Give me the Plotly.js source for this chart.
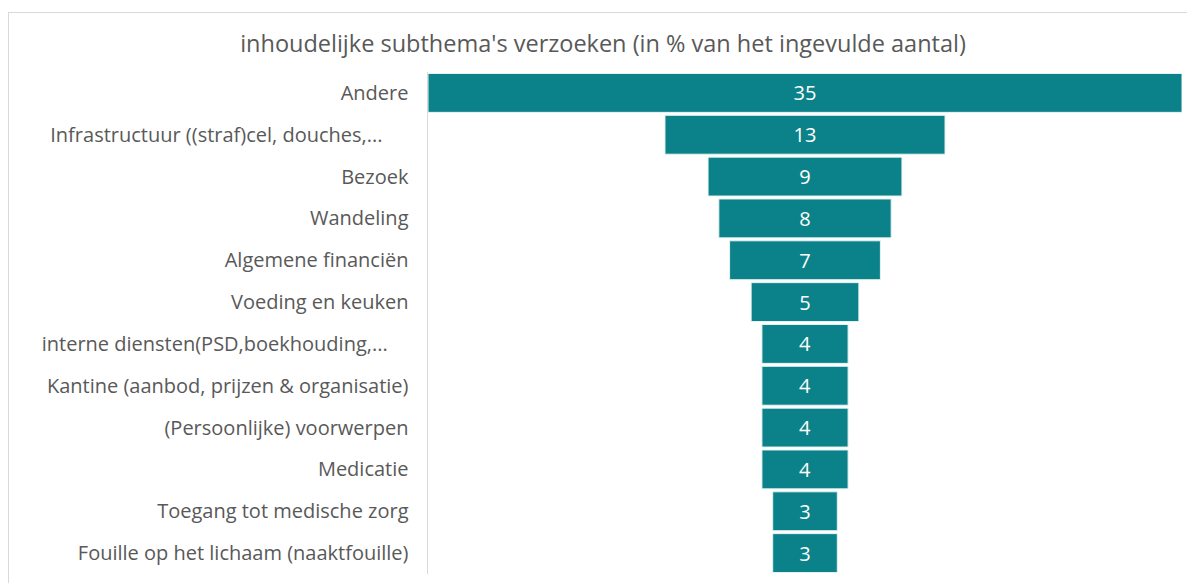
<!DOCTYPE html>
<html>
<head>
<meta charset="utf-8">
<script src="https://cdn.plot.ly/plotly-3.0.1.min.js"></script>
<style>
  html, body { margin: 0; padding: 0; background: #ffffff; overflow: hidden; }
  #chart { position: absolute; left: 0; top: 0; width: 1187px; height: 583px; }
  #frame { position: absolute; left: 8px; top: 12px; width: 1300px; height: 700px; border: 1px solid #d9d9d9; pointer-events: none; }
</style>
</head>
<body>
<div id="chart"></div>
<div id="frame"></div>
<script>
const NBSP = '\u00a0';
const categories = [
  'Andere',
  'Infrastructuur ((straf)cel, douches,...' + NBSP.repeat(5),
  'Bezoek',
  'Wandeling',
  'Algemene financiën',
  'Voeding en keuken',
  'interne diensten(PSD,boekhouding,...' + NBSP.repeat(4),
  'Kantine (aanbod, prijzen & organisatie)',
  '(Persoonlijke) voorwerpen',
  'Medicatie',
  'Toegang tot medische zorg',
  'Fouille op het lichaam (naaktfouille)'
];
const values = [35, 13, 9, 8, 7, 5, 4, 4, 4, 4, 3, 3];
const chartTitle = "inhoudelijke subthema's verzoeken (in % van het ingevulde aantal)";

const maxVal = Math.max(...values);

const trace = {
  type: 'funnel',
  y: categories,
  x: values,
  textinfo: 'value',
  textposition: 'inside',
  insidetextanchor: 'middle',
  textfont: { color: '#ffffff', size: 20, family: 'Open Sans, sans-serif' },
  marker: { color: '#0b8289', line: { color: '#e6f3f3', width: 1 } },
  connector: { visible: false },
  hoverinfo: 'y+x'
};

const layout = {
  width: 1187,
  height: 583,
  margin: { l: 428, r: 5, t: 72, b: 9 },
  paper_bgcolor: '#ffffff',
  plot_bgcolor: '#ffffff',
  funnelgap: 0.07,
  showlegend: false,
  title: {
    text: chartTitle,
    font: { family: 'Open Sans, sans-serif', size: 23.5, color: '#595959' },
    x: 0.508, xanchor: 'center',
    y: 0.925, yanchor: 'middle'
  },
  xaxis: {
    range: [-maxVal / 2, maxVal / 2],
    visible: false,
    fixedrange: true
  },
  yaxis: {
    showline: true,
    linecolor: '#d9d9d9',
    linewidth: 1.5,
    ticks: '',
    ticklabelstandoff: 14,
    tickfont: { family: 'Open Sans, sans-serif', size: 20, color: '#595959' },
    showgrid: false,
    zeroline: false
  },
  font: { family: 'Open Sans, sans-serif' }
};

Plotly.newPlot('chart', [trace], layout, { displayModeBar: false, staticPlot: true });
</script>
</body>
</html>
